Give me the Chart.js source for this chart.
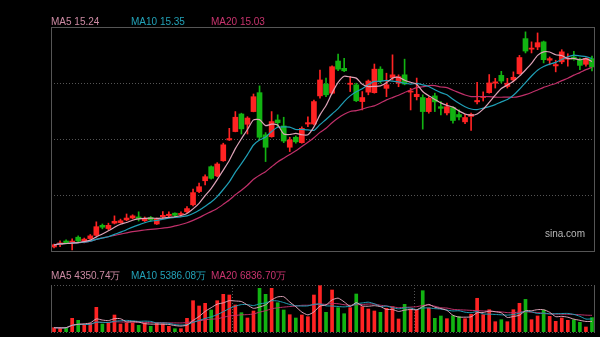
<!DOCTYPE html>
<html>
<head>
<meta charset="utf-8">
<script src="https://cdn.jsdelivr.net/npm/chart.js@4.4.0/dist/chart.umd.min.js"></script>
<style>
  body { margin: 0; background: #000; width: 600px; height: 337px; overflow: hidden; position: relative;
         font-family: "Liberation Sans", Arial, sans-serif; }
  canvas { position: absolute; left: 0; }
  #priceChart { top: 0; }
  #volChart { top: 260px; }
  .lbl { position: absolute; font-size: 10px; line-height: 10px; white-space: nowrap; }
  .ma5 { color: #cc8aa3; }
  .ma10 { color: #22a2b8; }
  .ma20 { color: #c9346e; }
  #brand { left: 545px; top: 229px; color: #b8b8b8; }
</style>
</head>
<body>
<canvas id="priceChart" width="600" height="260"></canvas>
<canvas id="volChart" width="600" height="77"></canvas>

<div class="lbl ma5" id="p5" style="left:51px; top:17px"></div>
<div class="lbl ma10" id="p10" style="left:131px; top:17px"></div>
<div class="lbl ma20" id="p20" style="left:211px; top:17px"></div>
<div class="lbl ma5" id="v5" style="left:51px; top:271px"></div>
<div class="lbl ma10" id="v10" style="left:131px; top:271px"></div>
<div class="lbl ma20" id="v20" style="left:211px; top:271px"></div>
<div class="lbl" id="brand">sina.com</div>

<script>
// daily K-line data, oldest first
const opens = [8.38, 8.47, 8.60, 8.56, 8.74, 8.57, 8.69, 8.81, 9.18, 9.06,
  9.26, 9.28, 9.38, 9.45, 9.49, 9.35, 9.47, 9.23, 9.50, 9.54,
  9.63, 9.58, 9.68, 9.94, 10.43, 10.83, 11.35, 11.01, 11.57, 12.34,
  12.65, 13.30, 12.92, 13.39, 14.09, 12.53, 12.46, 13.08, 12.86, 12.07,
  12.44, 12.24, 12.93, 12.93, 13.97, 14.41, 14.07, 15.26, 14.99, 14.40,
  14.38, 13.76, 14.11, 14.09, 14.96, 14.25, 14.65, 14.44, 14.75, 14.11,
  13.94, 13.91, 13.39, 13.97, 13.57, 13.34, 13.54, 13.28, 13.01, 13.21,
  13.75, 13.91, 14.09, 14.44, 14.73, 14.32, 14.56, 14.79, 16.09, 15.70,
  15.78, 15.97, 15.29, 15.08, 15.23, 15.33, 15.41, 15.33, 15.14, 15.35];
const highs = [8.49, 8.61, 8.64, 8.68, 8.79, 8.71, 8.84, 9.31, 9.23, 9.26,
  9.53, 9.41, 9.60, 9.57, 9.68, 9.49, 9.51, 9.45, 9.69, 9.68,
  9.64, 9.68, 9.87, 10.52, 10.74, 11.05, 11.38, 11.50, 12.22, 12.77,
  13.39, 13.33, 13.20, 14.04, 14.34, 12.61, 13.39, 13.27, 13.18, 12.44,
  12.49, 12.83, 13.20, 13.82, 14.93, 14.63, 15.08, 15.52, 15.36, 14.68,
  14.44, 14.13, 14.56, 15.15, 15.05, 14.81, 15.49, 14.75, 15.33, 14.25,
  14.63, 14.01, 13.94, 14.07, 13.76, 13.70, 13.57, 13.45, 13.29, 13.33,
  14.47, 14.12, 14.76, 14.62, 14.88, 14.62, 14.86, 15.47, 16.34, 15.97,
  16.30, 16.00, 15.41, 15.29, 15.68, 15.53, 15.62, 15.37, 15.38, 15.44];
const lows = [8.34, 8.39, 8.49, 8.27, 8.57, 8.53, 8.67, 8.79, 9.05, 9.01,
  9.23, 9.26, 9.35, 9.42, 9.34, 9.32, 9.34, 9.21, 9.44, 9.49,
  9.48, 9.50, 9.65, 9.90, 10.39, 10.68, 10.89, 10.98, 11.55, 12.32,
  12.64, 12.56, 12.56, 13.38, 12.34, 11.54, 12.44, 12.83, 12.24, 11.91,
  12.22, 12.22, 12.83, 12.90, 13.89, 13.94, 14.04, 14.90, 14.87, 14.13,
  13.76, 13.45, 14.01, 14.07, 14.44, 13.94, 14.56, 14.31, 14.38, 13.45,
  13.82, 12.74, 13.33, 13.39, 13.27, 13.27, 12.96, 13.08, 12.94, 12.69,
  13.67, 13.78, 14.07, 14.26, 14.45, 14.26, 14.49, 14.77, 15.56, 15.56,
  15.68, 15.19, 15.12, 14.86, 15.16, 15.07, 15.29, 14.94, 15.07, 14.89];
const closes = [8.46, 8.53, 8.53, 8.58, 8.60, 8.67, 8.79, 9.13, 9.11, 9.18,
  9.33, 9.35, 9.45, 9.53, 9.43, 9.44, 9.38, 9.42, 9.55, 9.59,
  9.55, 9.61, 9.80, 10.39, 10.61, 10.98, 10.92, 11.45, 12.16, 12.39,
  13.18, 12.75, 13.15, 13.94, 12.44, 12.07, 13.02, 12.98, 12.30, 12.34,
  12.27, 12.77, 12.98, 13.76, 14.56, 14.01, 15.05, 14.96, 14.90, 14.44,
  13.79, 13.91, 14.52, 14.96, 14.53, 14.38, 14.75, 14.68, 14.41, 14.15,
  14.03, 13.39, 13.88, 13.75, 13.51, 13.57, 13.06, 13.19, 13.17, 13.29,
  13.80, 13.95, 14.45, 14.49, 14.52, 14.44, 14.66, 15.39, 15.63, 15.74,
  15.94, 15.31, 15.35, 15.13, 15.60, 15.37, 15.33, 15.10, 15.36, 15.04];
// volume in 万
const volumes = [1763, 1640, 1927, 5617, 4797, 2747, 3567, 10127, 3280, 3567,
  6970, 3280, 3690, 3690, 2747, 3690, 2337, 3690, 3403, 2337,
  1353, 1353, 5617, 12833, 10660, 11767, 9020, 12833, 15457, 15170,
  11070, 7913, 5740, 8610, 17917, 15457, 17917, 12013, 9020, 7093,
  5740, 6970, 6273, 15170, 18983, 8077, 17220, 9963, 7503, 9963,
  15580, 10373, 9430, 8610, 8077, 9717, 10373, 5330, 11357, 9430,
  9020, 16933, 9840, 5617, 6560, 5453, 6683, 6273, 5453, 7257,
  13820, 7093, 9143, 4223, 5043, 4223, 9143, 11770, 13372.2, 5043,
  6560, 8983.1, 6437, 4387, 5740, 4797, 5043, 3977, 2050, 5886.7];
const sessions = closes.map((_, i) => i + 1);
const monthBreaks = [30, 60];   // first session of a new month

const priceMin = 8.23, priceMax = 16.52;
const volMax = 19270;

const RED = '#ff2323';
const GREEN = '#12b312';
const C5 = '#dda2b7', C10 = '#1f9fb6', C20 = '#c0306a';
const LINE = '#555';

function movingAverage(values, n) {
  return values.map((_, i) => {
    const win = values.slice(Math.max(0, i - n + 1), i + 1);
    return win.reduce((a, b) => a + b, 0) / win.length;
  });
}

const candleColors = closes.map((c, i) => c >= opens[i] ? RED : GREEN);

const ma5 = movingAverage(closes, 5);
const ma10 = movingAverage(closes, 10);
const ma20 = movingAverage(closes, 20);
const vma5 = movingAverage(volumes, 5);
const vma10 = movingAverage(volumes, 10);
const vma20 = movingAverage(volumes, 20);

document.getElementById('p5').innerText = 'MA5 ' + ma5.at(-1).toFixed(2);
document.getElementById('p10').innerText = 'MA10 ' + ma10.at(-1).toFixed(2);
document.getElementById('p20').innerText = 'MA20 ' + ma20.at(-1).toFixed(2);
document.getElementById('v5').innerText = 'MA5 ' + vma5.at(-1).toFixed(2) + '万';
document.getElementById('v10').innerText = 'MA10 ' + vma10.at(-1).toFixed(2) + '万';
document.getElementById('v20').innerText = 'MA20 ' + vma20.at(-1).toFixed(2) + '万';

function maLine(data, color, width) {
  return { type: 'line', data: data, borderColor: color, borderWidth: width,
           pointRadius: 0, tension: 0.2, order: 0 };
}

function hLine(ctx, x1, x2, y) {
  ctx.beginPath(); ctx.moveTo(x1, y); ctx.lineTo(x2, y); ctx.stroke();
}
function vLine(ctx, x, y1, y2) {
  ctx.beginPath(); ctx.moveTo(x, y1); ctx.lineTo(x, y2); ctx.stroke();
}

// dotted price grid + solid frame
const priceFrame = {
  id: 'priceFrame',
  beforeDatasetsDraw(chart) {
    const { ctx, chartArea: a, scales } = chart;
    ctx.save();
    ctx.strokeStyle = LINE;
    ctx.lineWidth = 1;
    ctx.setLineDash([1, 2]);
    for (let k = 1; k < 4; k++) {
      const y = Math.round(scales.y.getPixelForValue(priceMin + (priceMax - priceMin) * k / 4)) + 0.5;
      hLine(ctx, a.left, a.right, y);
    }
    ctx.restore();
  },
  afterDraw(chart) {
    const { ctx, chartArea: a } = chart;
    ctx.save();
    ctx.strokeStyle = LINE;
    ctx.lineWidth = 1;
    ctx.strokeRect(Math.round(a.left) + 0.5, Math.round(a.top) + 0.5,
                   Math.round(a.right - a.left) - 1, Math.round(a.bottom - a.top));
    ctx.restore();
  }
};

// volume panel: dotted top/bottom and month separators, solid sides
const volFrame = {
  id: 'volFrame',
  beforeDatasetsDraw(chart) {
    const { ctx, chartArea: a, scales } = chart;
    ctx.save();
    ctx.strokeStyle = LINE;
    ctx.lineWidth = 1;
    ctx.setLineDash([1, 2]);
    hLine(ctx, a.left, a.right, Math.round(a.top) + 0.5);
    hLine(ctx, a.left, a.right, Math.round(a.bottom) + 0.5);
    monthBreaks.forEach(b => {
      const x = (scales.x.getPixelForValue(b - 1) + scales.x.getPixelForValue(b)) / 2;
      vLine(ctx, Math.round(x) + 0.5, a.top, a.bottom);
    });
    ctx.setLineDash([]);
    vLine(ctx, Math.round(a.left) + 0.5, a.top, a.bottom + 1);
    vLine(ctx, Math.round(a.right) - 0.5, a.top, a.bottom + 1);
    ctx.restore();
  }
};

new Chart(document.getElementById('priceChart'), {
  type: 'bar',
  data: {
    labels: sessions,
    datasets: [
      maLine(ma5, C5, 1.2),
      maLine(ma10, C10, 1.2),
      maLine(ma20, C20, 1.2),
      { data: lows.map((l, i) => [l, highs[i]]), backgroundColor: candleColors,
        barThickness: 1, grouped: false, order: 2 },
      { data: opens.map((o, i) => [o, closes[i]]), backgroundColor: candleColors,
        barThickness: 5, minBarLength: 1, grouped: false, order: 1 }
    ]
  },
  options: {
    responsive: false,
    animation: false,
    layout: { padding: { left: 51, top: 27, right: 5, bottom: 9 } },
    plugins: { legend: { display: false }, tooltip: { enabled: false } },
    scales: {
      x: { display: false, offset: true },
      y: { display: false, min: priceMin, max: priceMax }
    }
  },
  plugins: [priceFrame]
});

new Chart(document.getElementById('volChart'), {
  type: 'bar',
  data: {
    labels: sessions,
    datasets: [
      maLine(vma5, C5, 1),
      maLine(vma10, C10, 1),
      maLine(vma20, C20, 1),
      { data: volumes, backgroundColor: candleColors, barThickness: 3, order: 1 }
    ]
  },
  options: {
    responsive: false,
    animation: false,
    layout: { padding: { left: 51, top: 25, right: 5, bottom: 5 } },
    plugins: { legend: { display: false }, tooltip: { enabled: false } },
    scales: {
      x: { display: false, offset: true },
      y: { display: false, min: 0, max: volMax }
    }
  },
  plugins: [volFrame]
});
</script>
</body>
</html>
